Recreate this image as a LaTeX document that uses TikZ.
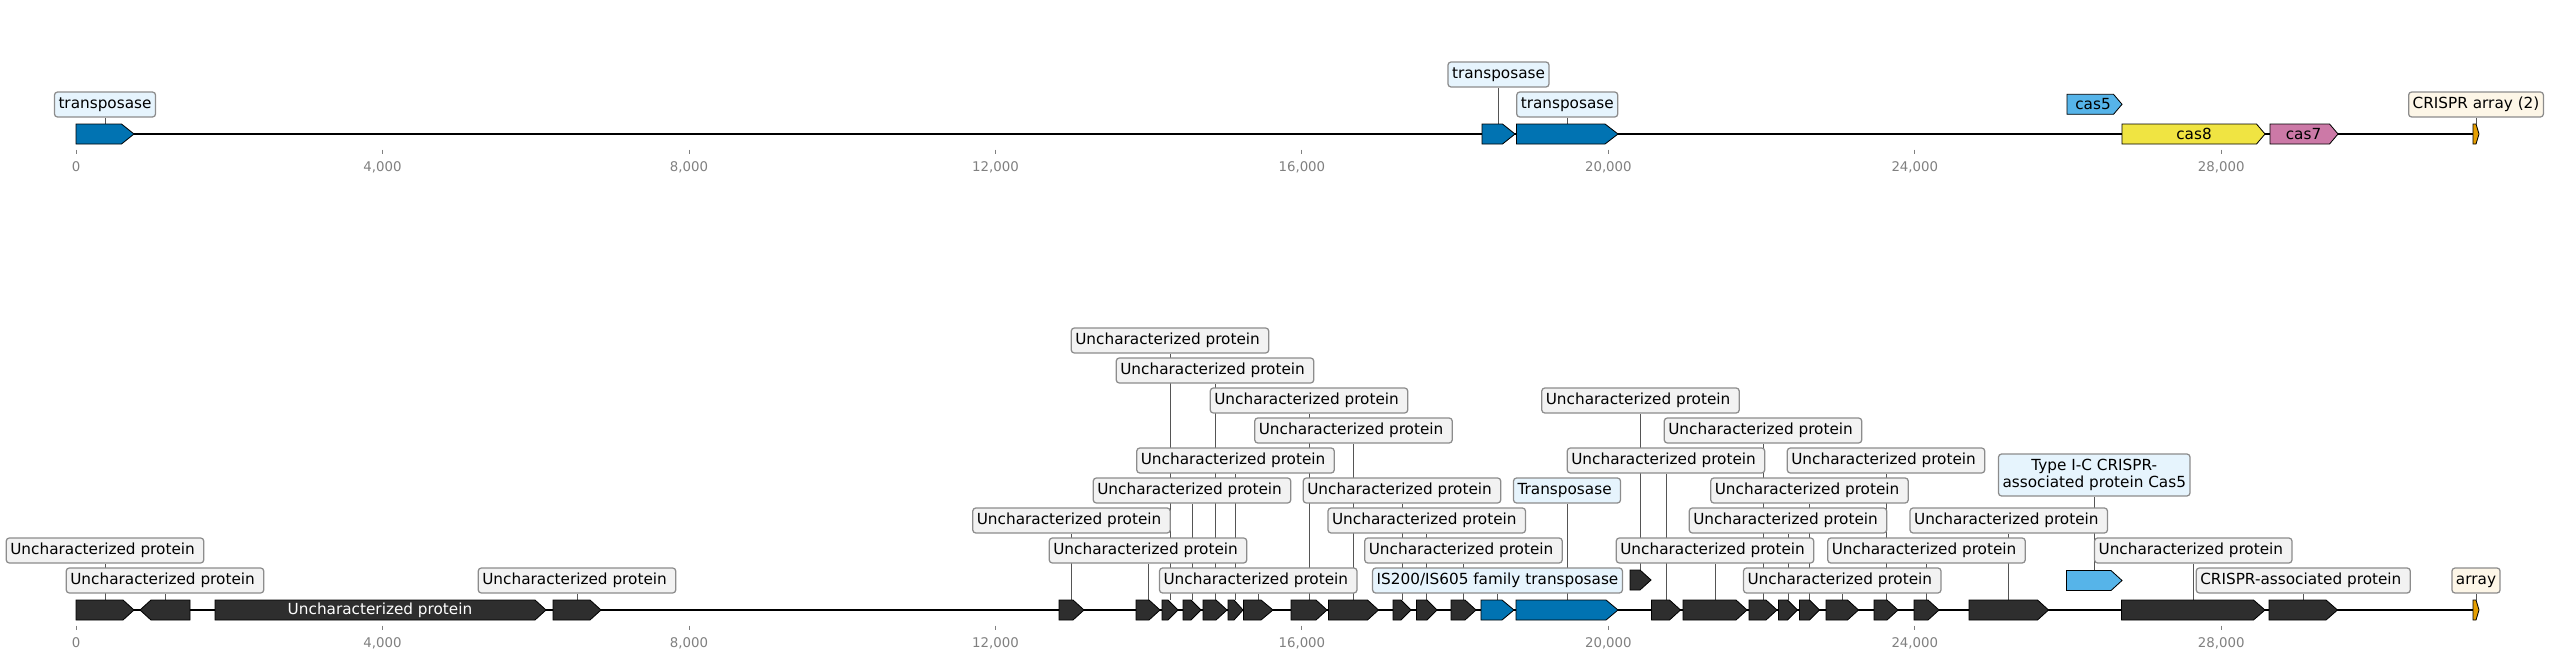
\documentclass[tikz,border=0pt]{standalone}
\usepackage{fontspec}
\setmainfont{DejaVu Sans}
\usetikzlibrary{backgrounds}
\definecolor{darkfeat}{HTML}{2E2E2E}
\definecolor{cblue}{HTML}{0173B2}
\definecolor{cltblue}{HTML}{56B4E9}
\definecolor{cyellow}{HTML}{F0E442}
\definecolor{cpink}{HTML}{CC79A7}
\definecolor{corange}{HTML}{E69F00}
\definecolor{boxgray}{HTML}{F2F2F2}
\definecolor{boxblue}{HTML}{E6F4FD}
\definecolor{boxcream}{HTML}{FDF6E7}
\definecolor{boxedge}{HTML}{8C8C8C}
\definecolor{leadgray}{HTML}{555555}
\definecolor{tickgray}{HTML}{808080}
\newcommand\tsp{\kern0.318em}
% forward feature: name, x1, x2, yc, head, fill
\newcommand\featfwd[6]{%
  \filldraw[feat, fill=#6] (#2,{#4-10}) -- ({#3-#5},{#4-10}) -- (#3,#4) -- ({#3-#5},{#4+10}) -- (#2,{#4+10}) -- cycle;
  \coordinate (#1) at ({(#2+#3)/2},{#4-10});}
% reverse feature
\newcommand\featrev[6]{%
  \filldraw[feat, fill=#6] (#3,{#4-10}) -- ({#2+#5},{#4-10}) -- (#2,#4) -- ({#2+#5},{#4+10}) -- (#3,{#4+10}) -- cycle;
  \coordinate (#1) at ({(#2+#3)/2},{#4-10});}
% label: feature name, style, y, text
\newcommand\flabel[4]{%
  \node[#2] (L#1) at (#1 |- 0,#3) {#4};
  \begin{pgfonlayer}{background}\draw[leader] (#1) -- (#1 |- L#1.south);\end{pgfonlayer}}
\begin{document}
\begin{tikzpicture}[x=0.72pt,y=-0.72pt,
  feat/.style={draw=black, line width=0.6pt, line join=miter},
  lab/.style={draw=boxedge, line width=0.9pt, rounded corners=2.2pt, fill=boxgray,
    font=\fontsize{11}{13}\selectfont, inner xsep=2.9pt, inner ysep=0pt,
    minimum height=18pt, text height=8pt, text depth=2.3pt},
  labB/.style={lab, fill=boxblue},
  labC/.style={lab, fill=boxcream},
  labtwo/.style={draw=boxedge, line width=0.9pt, rounded corners=2.2pt, fill=boxblue,
    font=\fontsize{11}{12}\selectfont, inner xsep=2.9pt, inner ysep=0pt,
    minimum height=30.2pt, align=center},
  leader/.style={draw=leadgray, line width=0.6pt},
  intext/.style={font=\fontsize{11}{13}\selectfont, inner sep=0pt},
  ticklab/.style={text=tickgray, font=\fontsize{9.6}{11}\selectfont, inner sep=0pt, text height=7pt, text depth=0pt},
  tickmark/.style={draw=tickgray, line width=0.6pt},
  axisline/.style={line width=1.5pt, draw=black}
]
\useasboundingbox (0,0) rectangle (2549,659);

% ================= TOP TRACK (axis y = 134) =================
\coordinate (ta0) at (76,134);
\coordinate (ta1) at (2479,134);
\draw[axisline] (ta0) -- (ta1);
\foreach \i/\t in {0/0,1/{4,000},2/{8,000},3/{12,000},4/{16,000},5/{20,000},6/{24,000},7/{28,000}}{
  \draw[tickmark] ({76+306.47*\i},149.5) -- ({76+306.47*\i},154);
  \node[ticklab] (tt\i) at ({76+306.47*\i},166.7) {\t};
}
\featfwd{t1}{76}{134}{134}{12.5}{cblue}
\featfwd{t2}{1482}{1515}{134}{12.5}{cblue}
\featfwd{t3}{1516.5}{1618}{134}{13}{cblue}
\featfwd{t4}{2067}{2122}{104.3}{8.5}{cltblue}
\featfwd{t5}{2122}{2265}{134}{8.5}{cyellow}
\featfwd{t6}{2270}{2338}{134}{8.5}{cpink}
\featfwd{t7}{2473}{2479}{134}{3}{corange}
\node[intext] (tx4) at (2093,104.3) {cas5};
\node[intext] (tx5) at (2194,134) {cas8};
\node[intext] (tx6) at (2303.5,134) {cas7};
\flabel{t1}{labB}{104.5}{transposase}
\flabel{t2}{labB}{74.5}{transposase}
\flabel{t3}{labB}{104.5}{transposase}
\flabel{t7}{labC}{104.5}{CRISPR array (2)}

% ================= BOTTOM TRACK (axis y = 610) =================
\coordinate (ba0) at (76,610);
\coordinate (ba1) at (2479,610);
\draw[axisline] (ba0) -- (ba1);
\foreach \i/\t in {0/0,1/{4,000},2/{8,000},3/{12,000},4/{16,000},5/{20,000},6/{24,000},7/{28,000}}{
  \draw[tickmark] ({76+306.47*\i},625.5) -- ({76+306.47*\i},630);
  \node[ticklab] (bt\i) at ({76+306.47*\i},642.7) {\t};
}
\featfwd{f1}{76}{134}{610}{11}{darkfeat}
\featrev{f2}{140}{190}{610}{11}{darkfeat}
\featfwd{f3}{215}{546}{610}{11}{darkfeat}
\featfwd{f4}{553}{601}{610}{11}{darkfeat}
\featfwd{g1}{1059}{1084}{610}{11}{darkfeat}
\featfwd{g2}{1136}{1160}{610}{11}{darkfeat}
\featfwd{g3}{1162}{1178}{610}{10}{darkfeat}
\featfwd{g4}{1183}{1201}{610}{10}{darkfeat}
\featfwd{g5}{1203}{1227}{610}{11}{darkfeat}
\featfwd{g6}{1228}{1243}{610}{9}{darkfeat}
\featfwd{g7}{1243.5}{1273}{610}{12}{darkfeat}
\featfwd{g8}{1291}{1327}{610}{11}{darkfeat}
\featfwd{g9}{1328.5}{1378.5}{610}{11}{darkfeat}
\featfwd{g10}{1393}{1411}{610}{10}{darkfeat}
\featfwd{g11}{1416.5}{1437}{610}{10}{darkfeat}
\featfwd{g12}{1451}{1476}{610}{11}{darkfeat}
\featfwd{b1}{1481}{1514}{610}{12}{cblue}
\featfwd{b2}{1516}{1618}{610}{12}{cblue}
\featfwd{r1}{1630}{1651}{580}{11}{darkfeat}
\featfwd{h1}{1651.5}{1680.5}{610}{11}{darkfeat}
\featfwd{h2}{1683}{1747}{610}{11}{darkfeat}
\featfwd{h3}{1749}{1777}{610}{11}{darkfeat}
\featfwd{h4}{1778.5}{1797.5}{610}{10}{darkfeat}
\featfwd{h5}{1799.5}{1819.5}{610}{10}{darkfeat}
\featfwd{h6}{1826}{1858.5}{610}{11}{darkfeat}
\featfwd{h7}{1874}{1898}{610}{11}{darkfeat}
\featfwd{h8}{1914}{1939}{610}{11}{darkfeat}
\featfwd{h9}{1969}{2048.5}{610}{11}{darkfeat}
\featfwd{r2}{2066.5}{2122}{580.5}{11}{cltblue}
\featfwd{k1}{2121.5}{2265}{610}{11.5}{darkfeat}
\featfwd{k2}{2269}{2337.5}{610}{11.5}{darkfeat}
\featfwd{ar}{2473}{2479}{610}{3}{corange}
\node[intext, text=white] (tx3) at (380,610) {Uncharacterized protein};

% labels (level centres: 580.5, 550.5, 520.5, 490.5, 460.5, 430.5, 400.5, 370.5, 340.5)
\flabel{f1}{lab}{550.5}{Uncharacterized protein\tsp}
\flabel{f2}{lab}{580.5}{Uncharacterized protein\tsp}
\flabel{f4}{lab}{580.5}{Uncharacterized protein\tsp}
\flabel{g1}{lab}{520.5}{Uncharacterized protein\tsp}
\flabel{g2}{lab}{550.5}{Uncharacterized protein\tsp}
\flabel{g3}{lab}{340.5}{Uncharacterized protein\tsp}
\flabel{g4}{lab}{490.5}{Uncharacterized protein\tsp}
\flabel{g5}{lab}{370.5}{Uncharacterized protein\tsp}
\flabel{g6}{lab}{460.5}{Uncharacterized protein\tsp}
\flabel{g7}{lab}{580.5}{Uncharacterized protein\tsp}
\flabel{g8}{lab}{400.5}{Uncharacterized protein\tsp}
\flabel{g9}{lab}{430.5}{Uncharacterized protein\tsp}
\flabel{g10}{lab}{490.5}{Uncharacterized protein\tsp}
\flabel{g11}{lab}{520.5}{Uncharacterized protein\tsp}
\flabel{g12}{lab}{550.5}{Uncharacterized protein\tsp}
\flabel{b1}{labB}{580.5}{IS200/IS605 family transposase}
\flabel{b2}{labB}{490.5}{Transposase\tsp}
\flabel{r1}{lab}{400.5}{Uncharacterized protein\tsp}
\flabel{h1}{lab}{460.5}{Uncharacterized protein\tsp}
\flabel{h2}{lab}{550.5}{Uncharacterized protein\tsp}
\flabel{h3}{lab}{430.5}{Uncharacterized protein\tsp}
\flabel{h4}{lab}{520.5}{Uncharacterized protein\tsp}
\flabel{h5}{lab}{490.5}{Uncharacterized protein\tsp}
\flabel{h6}{lab}{580.5}{Uncharacterized protein\tsp}
\flabel{h7}{lab}{460.5}{Uncharacterized protein\tsp}
\flabel{h8}{lab}{550.5}{Uncharacterized protein\tsp}
\flabel{h9}{lab}{520.5}{Uncharacterized protein\tsp}
\flabel{r2}{labtwo}{475}{Type I-C CRISPR-\\associated protein Cas5}
\flabel{k1}{lab}{550.5}{Uncharacterized protein\tsp}
\flabel{k2}{lab}{580.5}{CRISPR-associated protein\tsp}
\flabel{ar}{labC}{580.5}{array}
\end{tikzpicture}
\end{document}
